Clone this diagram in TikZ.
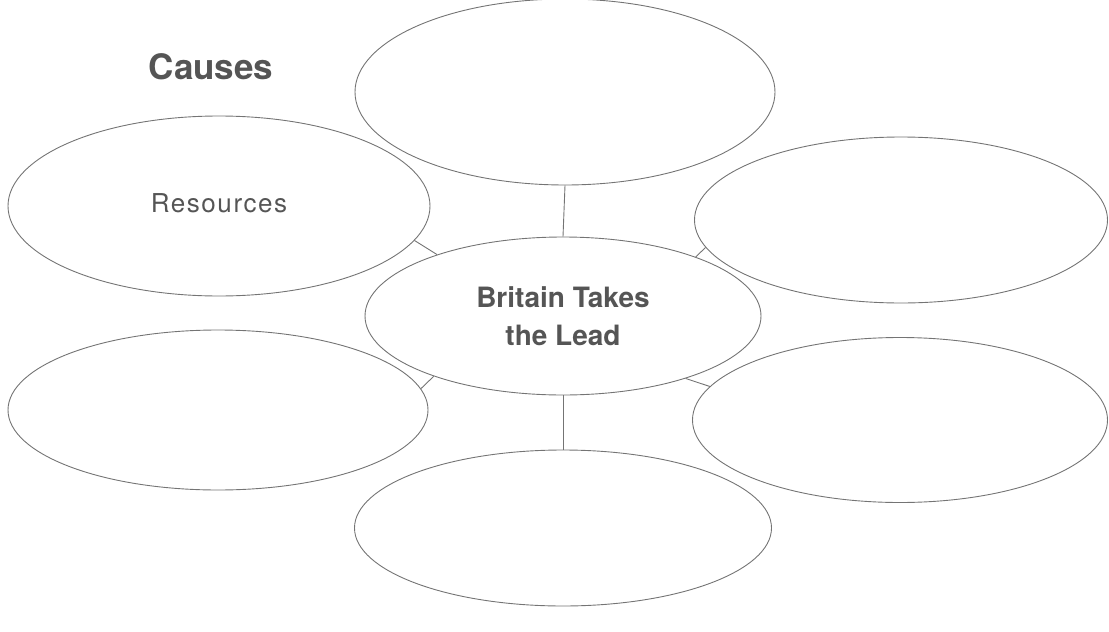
\documentclass[tikz,border=0pt]{standalone}
\usepackage{fontspec}
\setmainfont{TeX Gyre Heros}
\usetikzlibrary{shapes.geometric}
\definecolor{linegray}{HTML}{747474}
\definecolor{textgray}{HTML}{555555}
\begin{document}
\begin{tikzpicture}[x=1pt,y=-1pt,
  bubble/.style={ellipse, draw=linegray, line width=0.9pt, inner sep=0pt, align=center, text=textgray},
  link/.style={draw=linegray, line width=0.9pt}]
\useasboundingbox (0,0) rectangle (1109,632);
\node[bubble, minimum width=396pt, minimum height=158pt, font=\bfseries\fontsize{28}{38}\selectfont] (c) at (563,316) {Britain Takes\\the Lead};
\node[bubble, minimum width=420pt, minimum height=186pt] (t) at (565,92) {};
\node[bubble, minimum width=422pt, minimum height=180pt, font=\fontsize{26}{30}\selectfont\addfontfeatures{LetterSpace=6}] (tl) at (219,206) {\raisebox{5pt}{Resources}};
\node[bubble, minimum width=413pt, minimum height=166pt] (tr) at (901,220) {};
\node[bubble, minimum width=420pt, minimum height=160pt] (bl) at (218,410) {};
\node[bubble, minimum width=415pt, minimum height=165pt] (br) at (900,420) {};
\node[bubble, minimum width=417pt, minimum height=156pt] (b) at (563,528) {};
\draw[link] (t.south) -- (c.north);
\draw[link] (c.south) -- (b.north);
\draw[link] (c.154.7) -- (tl.-10.8);
\draw[link] (c.24.4) -- (tr.-172.5);
\draw[link] (c.205.8) -- (bl.6.8);
\draw[link] (c.-27.3) -- (br.170.7);
\node[font=\bfseries\fontsize{35}{40}\selectfont, text=textgray] (causes) at (211,67) {Causes};
\end{tikzpicture}
\end{document}
